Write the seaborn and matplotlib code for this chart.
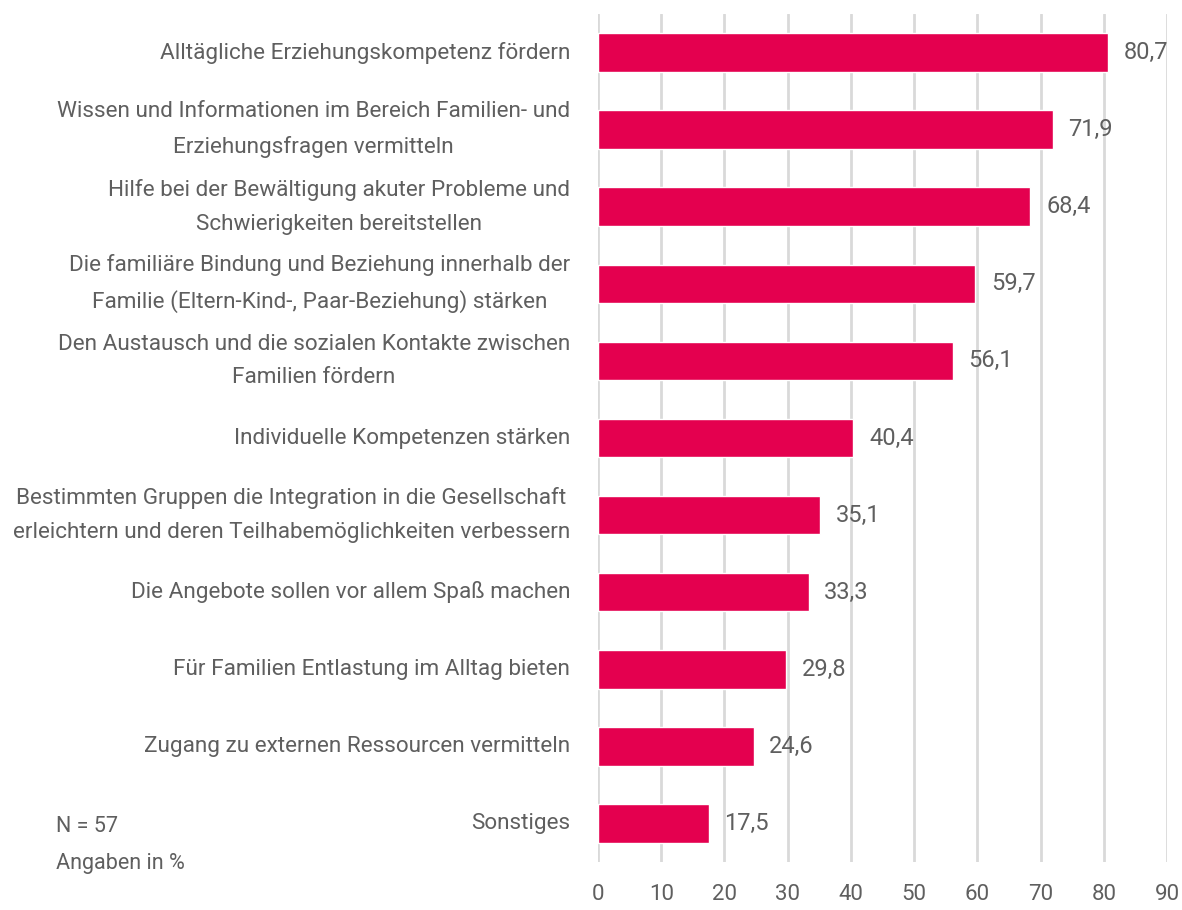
import pandas as pd
import matplotlib.pyplot as plt
import seaborn as sns

categories = [
    "Alltägliche Erziehungskompetenz fördern",
    "Wissen und Informationen im Bereich Familien- und\nErziehungsfragen vermitteln",
    "Hilfe bei der Bewältigung akuter Probleme und\nSchwierigkeiten bereitstellen",
    "Die familiäre Bindung und Beziehung innerhalb der\nFamilie (Eltern-Kind-, Paar-Beziehung) stärken",
    "Den Austausch und die sozialen Kontakte zwischen\nFamilien fördern",
    "Individuelle Kompetenzen stärken",
    "Bestimmten Gruppen die Integration in die Gesellschaft\nerleichtern und deren Teilhabemöglichkeiten verbessern",
    "Die Angebote sollen vor allem Spaß machen",
    "Für Familien Entlastung im Alltag bieten",
    "Zugang zu externen Ressourcen vermitteln",
    "Sonstiges",
]
values = [80.7, 71.9, 68.4, 59.7, 56.1, 40.4, 35.1, 33.3, 29.8, 24.6, 17.5]
x_ticks = [0, 10, 20, 30, 40, 50, 60, 70, 80, 90]

df = pd.DataFrame({"cat": categories, "val": values})

sns.set_style("white")
plt.rcParams["font.family"] = ["Roboto", "DejaVu Sans"]

text_col = "#5f5f5f"
bar_col = "#E4004F"

fig = plt.figure(figsize=(11.82, 9.10), dpi=100)
ax = fig.add_axes([0.5059, 0.0527, 0.4814, 0.9319])

sns.barplot(data=df, x="val", y="cat", color=bar_col, saturation=1, width=0.5, ax=ax, zorder=3)

ax.set_xlim(0, 90)
ax.set_ylim(10.5, -0.5)
ax.set_xticks(x_ticks)
ax.set_xticklabels([str(t) for t in x_ticks], fontsize=16, color=text_col)
ax.tick_params(axis="x", length=0, pad=16)
ax.tick_params(axis="y", length=0, pad=20)
ax.set_yticks(range(len(categories)))
ax.set_yticklabels(categories, fontsize=16.2, color=text_col,
                   multialignment="center", linespacing=1.8)
for lbl in ax.get_yticklabels():
    lbl.set_verticalalignment("center")
ax.set_xlabel("")
ax.set_ylabel("")
ax.grid(axis="x", color="#d9d9d9", linewidth=2, zorder=0)
for s in ax.spines.values():
    s.set_visible(False)

for i, v in enumerate(values):
    ax.text(v + 2.5, i, f"{v:.1f}".replace(".", ","), va="center", ha="left",
            fontsize=17, color=text_col, zorder=4)

fig.text(56 / 1182, 1 - 826 / 910, "N = 57", fontsize=15.5, color=text_col,
         va="center", ha="left")
fig.text(56 / 1182, 1 - 864 / 910, "Angaben in %", fontsize=15.5, color=text_col,
         va="center", ha="left")

fig.savefig("out.png", dpi=100)
